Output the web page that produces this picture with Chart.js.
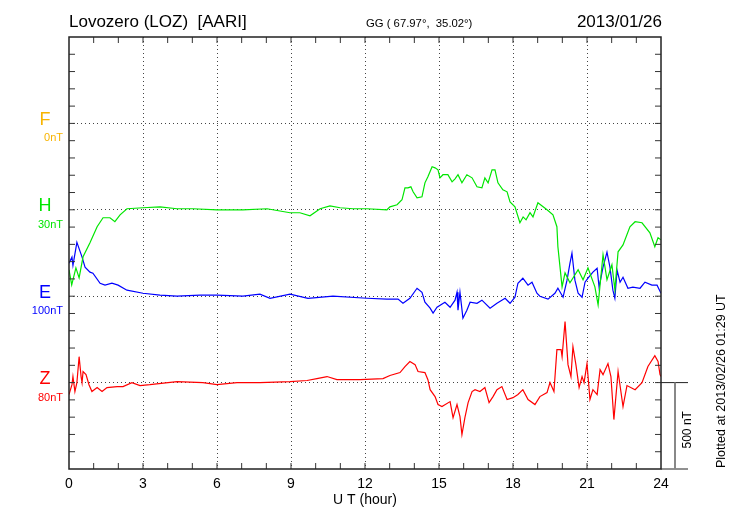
<!DOCTYPE html>
<html><head><meta charset="utf-8">
<script src="https://cdn.jsdelivr.net/npm/chart.js@4.4.1/dist/chart.umd.min.js"></script>
<style>html,body{margin:0;padding:0;background:#fff;}canvas{display:block;}</style>
</head><body>
<canvas id="c" width="730" height="520"></canvas>
<script>
// ---- labels / categories ----
const hourTicks = [0,3,6,9,12,15,18,21,24];
const components = ['F','H','E','Z'];
const compScales = ['0nT','30nT','100nT','80nT'];
const compBase = [2000,1500,1000,500];          // baseline value (nT) of each trace band
const compColors = ['#f8b400','#00e600','#0000ff','#ff0000'];

// ---- H component (nT, deviation from baseline) ----
const hTime = [0,0.11,0.28,0.41,0.57,0.85,1.14,1.38,1.66,1.86,2.07,2.35,3.0,3.69,4.38,5.03,6.0,7.05,8.03,8.96,9.36,9.77,10.18,10.58,10.99,11.51,12.08,12.89,13.01,13.30,13.50,13.62,13.74,13.86,13.95,14.11,14.31,14.43,14.55,14.72,14.84,14.96,15.04,15.16,15.36,15.53,15.65,15.77,15.93,16.13,16.34,16.54,16.74,16.86,16.99,17.15,17.27,17.39,17.59,17.76,17.88,18.08,18.28,18.41,18.53,18.69,18.81,19.01,19.38,19.62,19.78,19.82,19.99,20.11,20.31,20.64,20.84,21.04,21.32,21.45,21.65,21.81,22.01,22.13,22.26,22.46,22.74,22.95,23.23,23.55,23.75,23.88,24.0];
const hVals = [-347,-434,-336,-394,-272,-191,-98,-46,-46,-69,-29,6,12,17,6,6,0,0,6,-17,-17,-35,6,23,12,6,6,0,17,29,58,127,127,133,104,69,75,156,191,249,243,231,185,203,203,162,179,203,156,203,185,133,127,185,156,231,231,156,116,104,46,17,-75,-41,-58,-17,-41,41,0,-29,-98,-214,-446,-365,-422,-347,-405,-336,-446,-550,-260,-405,-318,-463,-243,-203,-98,-69,-75,-133,-214,-162,-174];

// ---- E component ----
const eTime = [0,0.12,0.16,0.32,0.53,0.65,0.85,0.97,1.26,1.46,1.74,1.99,2.35,3.0,3.69,4.38,5.31,6.0,7.05,7.74,8.15,8.96,9.69,10.7,12.08,12.89,13.34,13.54,13.82,14.11,14.31,14.43,14.64,14.76,14.92,15.24,15.45,15.65,15.73,15.77,15.85,15.97,16.13,16.26,16.54,16.74,17.07,17.35,17.68,17.88,18.08,18.2,18.4,18.61,18.77,18.97,19.09,19.42,19.7,19.82,20.03,20.19,20.31,20.39,20.51,20.64,20.8,20.92,21.04,21.24,21.41,21.49,21.65,21.81,21.93,22.05,22.13,22.22,22.34,22.46,22.66,22.86,23.15,23.35,23.63,23.84,24.0];
const eVals = [191,226,179,312,226,168,139,133,75,64,75,64,35,17,6,0,6,6,0,12,-12,12,-12,0,-12,-17,-17,-41,-12,46,23,-35,-69,-98,-64,-35,-64,-23,23,-81,23,-127,-81,-35,-41,-23,-69,-41,-12,-41,-6,75,104,64,81,17,0,-17,17,46,-6,93,191,249,93,17,-6,81,104,139,162,52,168,255,168,35,-12,150,81,110,46,52,46,81,64,64,17];

// ---- Z component ----
const zTime = [0,0.12,0.16,0.24,0.32,0.41,0.49,0.53,0.57,0.69,0.81,0.93,1.14,1.34,1.54,1.95,2.19,2.55,2.88,3.28,4.38,5.43,6.0,6.81,7.74,8.96,9.65,10.05,10.46,10.86,11.8,12.73,13.01,13.42,13.62,13.82,14.03,14.15,14.43,14.55,14.64,14.84,14.96,15.12,15.45,15.57,15.73,15.85,15.93,16.05,16.18,16.34,16.46,16.66,16.86,17.03,17.19,17.35,17.55,17.76,18.0,18.2,18.4,18.61,18.89,19.09,19.38,19.5,19.66,19.78,19.95,19.99,20.11,20.23,20.35,20.43,20.55,20.68,20.8,20.88,21.0,21.12,21.24,21.41,21.53,21.65,21.85,21.97,22.09,22.26,22.46,22.62,22.95,23.23,23.47,23.75,23.88,23.96,24.0];
const zVals = [-69,-12,35,-52,0,150,35,0,64,46,-12,-52,-29,-52,-29,-23,-23,0,-17,-12,6,0,-12,0,0,6,12,23,35,17,17,23,41,58,93,122,104,64,58,17,-41,-81,-127,-139,-110,-203,-127,-197,-301,-203,-116,-52,-41,-52,-29,-116,-81,-41,-23,-98,-87,-69,-41,-98,-127,-81,-58,0,-52,191,191,150,353,104,35,208,104,-29,35,0,110,-98,-41,-69,75,46,110,35,-214,64,-139,-17,-41,0,93,156,122,46,35];

const FONT = "'Liberation Sans', Arial, Helvetica, sans-serif";
function series(t, v, base){ return t.map((x,i)=>({x:x, y:base+v[i]})); }

const deco = {
  id:'deco',
  afterDraw(chart){
    const {ctx, chartArea:a, scales:{x,y}} = chart;
    const L=(x1,y1,x2,y2)=>{ctx.beginPath();ctx.moveTo(x1,y1);ctx.lineTo(x2,y2);ctx.stroke();};
    ctx.save();
    ctx.strokeStyle='#333'; ctx.lineWidth=1;
    for(let h=1;h<24;h++){const px=x.getPixelForValue(h);L(px,a.top,px,a.top+6);L(px,a.bottom,px,a.bottom-6);}
    for(let v=100;v<2500;v+=100){const py=y.getPixelForValue(v);L(a.left,py,a.left+6,py);L(a.right,py,a.right-6,py);}
    ctx.lineWidth=1.5; ctx.strokeStyle='#222';
    ctx.strokeRect(a.left,a.top,a.right-a.left,a.bottom-a.top);
    // scale bar on right
    const yZ=y.getPixelForValue(compBase[3]);
    const y0=y.getPixelForValue(0);
    ctx.lineWidth=1;
    L(a.right,yZ,a.right+27,yZ);
    L(a.right,y0,a.right+27,y0);
    ctx.strokeStyle='#888'; ctx.lineWidth=2;
    L(a.right+14,yZ,a.right+14,y0);
    // rotated texts
    ctx.fillStyle='#000';
    ctx.save(); ctx.translate(a.right+27,(yZ+y0)/2+4); ctx.rotate(-Math.PI/2);
    ctx.font='12px '+FONT; ctx.textAlign='center'; ctx.textBaseline='middle';
    ctx.fillText('500 nT',0,0); ctx.restore();
    ctx.save(); ctx.translate(a.right+61,y0-1); ctx.rotate(-Math.PI/2);
    ctx.font='12.5px '+FONT; ctx.textAlign='left'; ctx.textBaseline='middle';
    ctx.fillText('Plotted at 2013/02/26 01:29 UT',0,0); ctx.restore();
    // axis title
    ctx.font='14px '+FONT; ctx.textAlign='center'; ctx.textBaseline='middle';
    ctx.fillText('U T (hour)',(a.left+a.right)/2,a.bottom+31);
    // component labels
    for(let i=0;i<components.length;i++){
      const py=y.getPixelForValue(compBase[i]);
      ctx.fillStyle=compColors[i];
      ctx.font='18px '+FONT; ctx.textAlign='center'; ctx.textBaseline='alphabetic';
      ctx.fillText(components[i],a.left-24,py+1.5);
      ctx.font='11px '+FONT; ctx.textAlign='right';
      ctx.fillText(compScales[i],a.left-6,py+18);
    }
    // titles
    ctx.fillStyle='#000'; ctx.textBaseline='alphabetic';
    ctx.font='17px '+FONT; ctx.textAlign='left';
    ctx.fillText('Lovozero (LOZ)  [AARI]',a.left,27);
    ctx.textAlign='right'; ctx.fillText('2013/01/26',a.right+1,27);
    ctx.font='11.3px '+FONT; ctx.textAlign='left';
    ctx.fillText('GG ( 67.97\u00b0,  35.02\u00b0)',366,27);
    ctx.restore();
  }
};

new Chart(document.getElementById('c'),{
  type:'line',
  data:{datasets:[
    {label:'H',data:series(hTime,hVals,compBase[1]),borderColor:compColors[1],borderWidth:1.2,pointRadius:0,tension:0},
    {label:'E',data:series(eTime,eVals,compBase[2]),borderColor:compColors[2],borderWidth:1.2,pointRadius:0,tension:0},
    {label:'Z',data:series(zTime,zVals,compBase[3]),borderColor:compColors[3],borderWidth:1.2,pointRadius:0,tension:0}
  ]},
  options:{
    responsive:false, animation:false, devicePixelRatio:1,
    layout:{padding:{left:69,right:69,top:37,bottom:21}},
    plugins:{legend:{display:false},tooltip:{enabled:false}},
    scales:{
      x:{type:'linear',min:0,max:24,
        afterBuildTicks:(s)=>{s.ticks=hourTicks.map(v=>({value:v}));},
        ticks:{color:'#000',font:{family:FONT,size:14,lineHeight:1},padding:8,maxRotation:0,autoSkip:false},
        grid:{drawTicks:false,lineWidth:1,color:(c)=>(c.tick&&c.tick.value>0&&c.tick.value<24)?'#444':'rgba(0,0,0,0)'},
        border:{display:false,dash:[1,3]},
        title:{display:false}
      },
      y:{min:0,max:2500,
        afterBuildTicks:(s)=>{s.ticks=[0,500,1000,1500,2000,2500].map(v=>({value:v}));},
        ticks:{display:false},
        grid:{drawTicks:false,lineWidth:1,color:(c)=>(c.tick&&c.tick.value>0&&c.tick.value<2500)?'#444':'rgba(0,0,0,0)'},
        border:{display:false,dash:[1,3]}
      }
    }
  },
  plugins:[deco]
});
</script>
</body></html>
